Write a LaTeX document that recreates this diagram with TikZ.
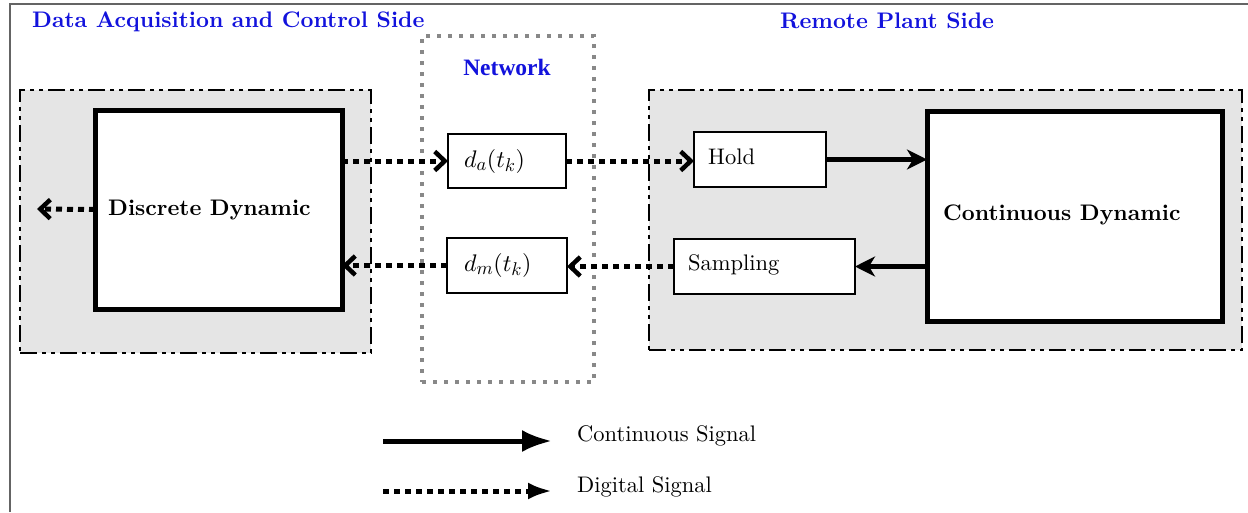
\documentclass[tikz,border=0pt]{standalone}
\usepackage{fontspec}
\setmainfont{lmroman10-regular.otf}[BoldFont=lmroman10-bold.otf, ItalicFont=lmroman10-italic.otf, BoldItalicFont=lmroman10-bolditalic.otf]
\newfontfamily\netfont{Liberation Serif}
\DeclareFontShape{OML}{cmm}{m}{it}{<->cmmi10}{}
\DeclareFontShape{OT1}{cmr}{m}{n}{<->cmr10}{}
\DeclareFontShape{OMS}{cmsy}{m}{n}{<->cmsy10}{}
\DeclareMathSizes{24}{24}{18.5}{13}
\usetikzlibrary{arrows.meta,calc}
\definecolor{regiongray}{RGB}{229,229,229}
\definecolor{titleblue}{RGB}{18,18,220}
\definecolor{netgray}{RGB}{136,136,136}
\definecolor{framegray}{RGB}{100,100,100}
\tikzset{
  region/.style={draw, line width=2.5pt, dash pattern=on 17pt off 5pt on 4pt off 5pt on 4pt off 5pt, fill=regiongray, inner sep=0pt, outer sep=0pt},
  netbox/.style={draw=netgray, line width=4pt, dash pattern=on 4pt off 7pt, inner sep=0pt, outer sep=0pt},
  bigbox/.style={draw, line width=5pt, fill=white, inner sep=0pt, outer sep=0pt},
  smallbox/.style={draw, line width=2pt, fill=white, inner sep=0pt, outer sep=0pt},
  lbl/.style={inner sep=0pt, anchor=base west, font=\fontsize{22.5}{27}\selectfont},
  mlbl/.style={inner sep=0pt, anchor=base west, font=\fontsize{24}{28}\selectfont},
  blbl/.style={lbl, font=\fontsize{22.5}{27}\selectfont\bfseries},
  ttl/.style={lbl, font=\fontsize{22.5}{27}\selectfont\bfseries, text=titleblue},
  digital/.style={line width=5pt, dash pattern=on 6pt off 5pt, -{Straight Barb[length=10pt,width=19pt,line width=4.5pt]}},
  continuous/.style={line width=4.5pt, -{Stealth[length=20pt,width=20pt,inset=6pt]}},
  legsolid/.style={line width=5pt, -{Latex[length=30pt,width=22pt]}},
  legdigital/.style={line width=5pt, dash pattern=on 6pt off 5pt, -{Latex[length=24pt,width=17pt]}}
}
\begin{document}
\begin{tikzpicture}[x=1pt,y=-1pt]
\useasboundingbox (0,0) rectangle (1248,512);
% frame
\draw[framegray, line width=2.5pt] (10,512) -- (10,4) -- (1248,4);
% regions
\node[region, minimum width=351pt, minimum height=263pt] (left) at (195.5,221.5) {};
\node[region, minimum width=593pt, minimum height=260pt] (right) at (945.5,220) {};
\node[netbox, minimum width=172pt, minimum height=346pt] (net) at (508,209) {};
% titles
\node[ttl] (t1) at (32,27.5) {Data Acquisition and Control Side};
\node[ttl] (t2) at (780,28) {Remote Plant Side};
\node[inner sep=0pt, anchor=base, text=titleblue, font=\fontsize{23.5}{28}\selectfont\netfont\bfseries] (t3) at (507,75) {Network};
% boxes
\node[bigbox, minimum width=247pt, minimum height=199pt] (dd) at (218.5,209.5) {};
\node[bigbox, minimum width=295pt, minimum height=210pt] (cd) at (1074.5,216) {};
\node[smallbox, minimum width=118pt, minimum height=54pt] (da) at (507,161) {};
\node[smallbox, minimum width=120pt, minimum height=55pt] (dm) at (507,265.5) {};
\node[smallbox, minimum width=132pt, minimum height=55pt] (hold) at (760,159.5) {};
\node[smallbox, minimum width=181pt, minimum height=55pt] (samp) at (764.5,266.5) {};
% box texts
\node[blbl] (ddl) at (108,215.5) {Discrete Dynamic};
\node[blbl] (cdl) at (943,220) {Continuous Dynamic};
\node[mlbl] (dal) at (464,167.3) {$d_a(t_k)$};
\node[mlbl] (dml) at (464,271.3) {$d_m(t_k)$};
\node[lbl] (holdl) at (708,164.3) {Hold};
\node[lbl] (sampl) at (688,270.7) {Sampling};
% connectors
\coordinate (out) at (37,209);
\draw[digital] (dd.east |- da.west) -- (da.west);
\draw[digital] (da.east) -- (da.east -| hold.west);
\draw[digital] (samp.west) -- (samp.west -| dm.east);
\draw[digital] (dm.west) -- (dm.west -| dd.east);
\draw[digital] (dd.west) -- (out);
\draw[continuous] (hold.east) -- (hold.east -| cd.west);
\draw[continuous] (samp.east -| cd.west) -- (samp.east);
% legend
\coordinate (l1s) at (383,441);
\coordinate (l1e) at (552,441);
\coordinate (l2s) at (383,491);
\coordinate (l2e) at (552,491);
\draw[legsolid] (l1s) -- (l1e);
\draw[legdigital] (l2s) -- (l2e);
\node[lbl] (leg1) at (577,441.7) {Continuous Signal};
\node[lbl] (leg2) at (577,492.7) {Digital Signal};
\end{tikzpicture}
\end{document}
